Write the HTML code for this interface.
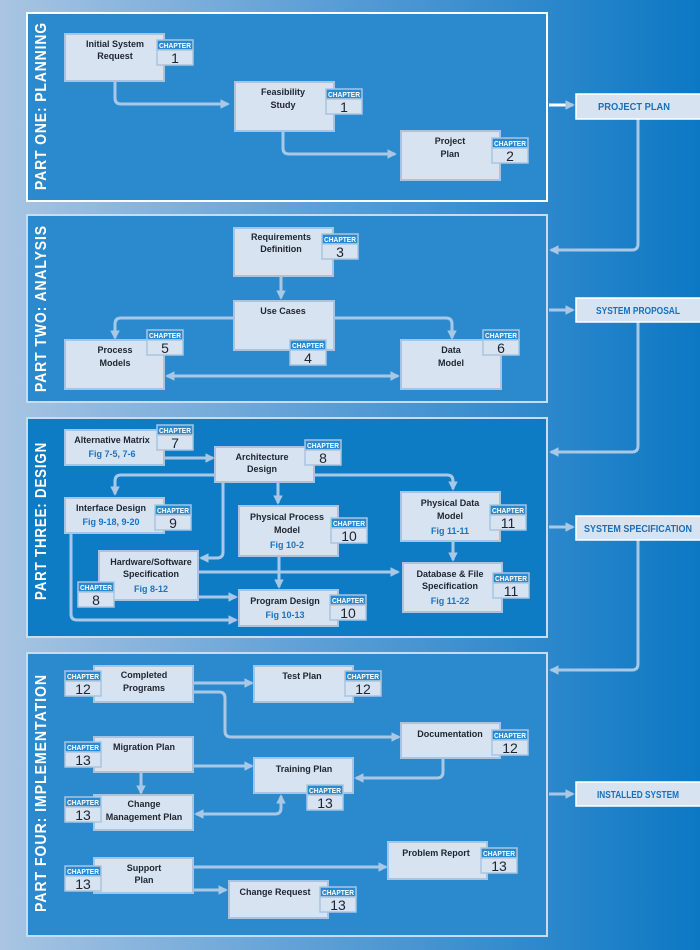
<!DOCTYPE html>
<html><head><meta charset="utf-8"><style>
html,body{margin:0;padding:0;width:700px;height:950px;overflow:hidden}
svg{display:block}
text{font-family:"Liberation Sans",sans-serif;font-weight:bold}
.b{fill:#d7e3f0;stroke:#a9c4e0;stroke-width:2}
.t{font-size:9px;fill:#1e2430;text-anchor:middle}
.f{font-size:9px;fill:#1a73c0;text-anchor:middle}
.ch{font-size:7px;fill:#fff;text-anchor:middle}
.n{font-size:14px;fill:#1e2430;text-anchor:middle;font-weight:normal}
.l{fill:none;stroke:#a9c8e6;stroke-width:3;stroke-linejoin:round}
.pt{font-size:16px;fill:#fff;letter-spacing:1px}
.lab{font-size:10.5px;fill:#1a6fb8;text-anchor:middle}
</style></head><body>
<svg width="700" height="950" viewBox="0 0 700 950" xmlns="http://www.w3.org/2000/svg">
<defs>
<linearGradient id="bg" x1="0" y1="0" x2="1" y2="0">
<stop offset="0" stop-color="#a9c5e2"/><stop offset="0.45" stop-color="#5d9fd6"/><stop offset="1" stop-color="#0c78c4"/>
</linearGradient>
<marker id="a" viewBox="0 0 10 10" refX="8" refY="5" markerWidth="3.2" markerHeight="3.2" orient="auto-start-reverse"><path d="M0,0 L10,5 L0,10 z" fill="#a9c8e6"/></marker>
<g id="bd"><rect x="0" y="0" width="36" height="10" fill="#2a8ad0" stroke="#a9c4e0" stroke-width="1.5"/><text class="ch" x="18" y="8" textLength="32" lengthAdjust="spacingAndGlyphs">CHAPTER</text><rect x="0" y="10" width="36" height="15" fill="#d7e3f0" stroke="#a9c4e0" stroke-width="1.5"/></g>
</defs>
<rect width="700" height="950" fill="url(#bg)"/>

<rect x="27" y="13" width="520" height="188" fill="#2a8acd" stroke="#fff" stroke-width="2"/>
<rect x="27" y="215" width="520" height="187" fill="#2a8acd" stroke="#c9dcef" stroke-width="2"/>
<rect x="27" y="418" width="520" height="219" fill="#0d7cc5" stroke="#c9dcef" stroke-width="2"/>
<rect x="27" y="653" width="520" height="283" fill="#2a8acd" stroke="#c9dcef" stroke-width="2"/>

<text class="pt" transform="translate(46,190) rotate(-90)" textLength="168" lengthAdjust="spacingAndGlyphs">PART ONE: PLANNING</text>
<text class="pt" transform="translate(46,392) rotate(-90)" textLength="167" lengthAdjust="spacingAndGlyphs">PART TWO: ANALYSIS</text>
<text class="pt" transform="translate(46,600) rotate(-90)" textLength="158" lengthAdjust="spacingAndGlyphs">PART THREE: DESIGN</text>
<text class="pt" transform="translate(46,912) rotate(-90)" textLength="238" lengthAdjust="spacingAndGlyphs">PART FOUR: IMPLEMENTATION</text>

<g class="l">
<path d="M549,105 H573" marker-end="url(#a)" stroke="#fff"/>
<path d="M638,119 V244 Q638,250 632,250 H551" marker-end="url(#a)"/>
<path d="M549,310 H573" marker-end="url(#a)"/>
<path d="M638,322 V446 Q638,452 632,452 H551" marker-end="url(#a)"/>
<path d="M549,527 H573" marker-end="url(#a)"/>
<path d="M638,540 V664 Q638,670 632,670 H551" marker-end="url(#a)"/>
<path d="M549,794 H573" marker-end="url(#a)"/>
</g>
<rect x="576" y="94" width="126" height="25" fill="#d7e3f0" stroke="#fff" stroke-width="1.5"/><text class="lab" x="634" y="110" textLength="72" lengthAdjust="spacingAndGlyphs">PROJECT PLAN</text>
<rect x="576" y="298" width="126" height="24" fill="#d7e3f0" stroke="#fff" stroke-width="1.5"/><text class="lab" x="638" y="314" textLength="84" lengthAdjust="spacingAndGlyphs">SYSTEM PROPOSAL</text>
<rect x="576" y="516" width="126" height="24" fill="#d7e3f0" stroke="#fff" stroke-width="1.5"/><text class="lab" x="638" y="532" textLength="108" lengthAdjust="spacingAndGlyphs">SYSTEM  SPECIFICATION</text>
<rect x="576" y="782" width="126" height="24" fill="#d7e3f0" stroke="#fff" stroke-width="1.5"/><text class="lab" x="638" y="798" textLength="82" lengthAdjust="spacingAndGlyphs">INSTALLED SYSTEM</text>

<g class="l">
<path d="M115,81 V98 Q115,104 121,104 H228" marker-end="url(#a)"/>
<path d="M283,131 V148 Q283,154 289,154 H395" marker-end="url(#a)"/>
</g>
<rect class="b" x="65" y="34" width="99" height="47"/><text class="t" x="115" y="47">Initial System</text><text class="t" x="115" y="59">Request</text>
<use href="#bd" x="157" y="40"/><text class="n" x="175" y="63">1</text>
<rect class="b" x="235" y="82" width="99" height="49"/><text class="t" x="283" y="95">Feasibility</text><text class="t" x="283" y="108">Study</text>
<use href="#bd" x="326" y="89"/><text class="n" x="344" y="112">1</text>
<rect class="b" x="401" y="131" width="99" height="49"/><text class="t" x="450" y="144">Project</text><text class="t" x="450" y="157">Plan</text>
<use href="#bd" x="492" y="138"/><text class="n" x="510" y="161">2</text>

<g class="l">
<path d="M281,276 V298" marker-end="url(#a)"/>
<path d="M234,318 H121 Q115,318 115,324 V338" marker-end="url(#a)"/>
<path d="M334,318 H446 Q452,318 452,324 V338" marker-end="url(#a)"/>
<path d="M167,376 H398" marker-end="url(#a)" marker-start="url(#a)"/>
</g>
<rect class="b" x="234" y="228" width="99" height="48"/><text class="t" x="281" y="240">Requirements</text><text class="t" x="281" y="252">Definition</text>
<use href="#bd" x="322" y="234"/><text class="n" x="340" y="257">3</text>
<rect class="b" x="234" y="301" width="100" height="49"/><text class="t" x="283" y="314">Use Cases</text>
<use href="#bd" x="290" y="340"/><text class="n" x="308" y="363">4</text>
<rect class="b" x="65" y="340" width="99" height="49"/><text class="t" x="115" y="353">Process</text><text class="t" x="115" y="366">Models</text>
<use href="#bd" x="147" y="330"/><text class="n" x="165" y="353">5</text>
<rect class="b" x="401" y="340" width="100" height="49"/><text class="t" x="451" y="353">Data</text><text class="t" x="451" y="366">Model</text>
<use href="#bd" x="483" y="330"/><text class="n" x="501" y="353">6</text>

<g class="l">
<path d="M164,458 H213" marker-end="url(#a)"/>
<path d="M215,475 H121 Q115,475 115,481 V494" marker-end="url(#a)"/>
<path d="M223,482 V552 Q223,558 217,558 H201" marker-end="url(#a)"/>
<path d="M278,482 V503" marker-end="url(#a)"/>
<path d="M314,475 H447 Q453,475 453,481 V489" marker-end="url(#a)"/>
<path d="M71,533 V614 Q71,620 77,620 H236" marker-end="url(#a)"/>
<path d="M198,597 H236" marker-end="url(#a)"/>
<path d="M198,572 H398" marker-end="url(#a)"/>
<path d="M279,556 V587" marker-end="url(#a)"/>
<path d="M453,541 V560" marker-end="url(#a)"/>
</g>
<rect class="b" x="65" y="430" width="99" height="35"/><text class="t" x="112" y="443">Alternative Matrix</text><text class="f" x="112" y="457">Fig 7-5, 7-6</text>
<use href="#bd" x="157" y="425"/><text class="n" x="175" y="448">7</text>
<rect class="b" x="215" y="447" width="99" height="35"/><text class="t" x="262" y="460">Architecture</text><text class="t" x="262" y="472">Design</text>
<use href="#bd" x="305" y="440"/><text class="n" x="323" y="463">8</text>
<rect class="b" x="65" y="498" width="99" height="35"/><text class="t" x="111" y="511">Interface Design</text><text class="f" x="111" y="525">Fig 9-18, 9-20</text>
<use href="#bd" x="155" y="505"/><text class="n" x="173" y="528">9</text>
<rect class="b" x="239" y="506" width="99" height="50"/><text class="t" x="287" y="520">Physical Process</text><text class="t" x="287" y="533">Model</text><text class="f" x="287" y="548">Fig 10-2</text>
<use href="#bd" x="331" y="518"/><text class="n" x="349" y="541">10</text>
<rect class="b" x="401" y="492" width="99" height="49"/><text class="t" x="450" y="506">Physical Data</text><text class="t" x="450" y="519">Model</text><text class="f" x="450" y="534">Fig 11-11</text>
<use href="#bd" x="490" y="505"/><text class="n" x="508" y="528">11</text>
<rect class="b" x="99" y="551" width="99" height="49"/><text class="t" x="151" y="565">Hardware/Software</text><text class="t" x="151" y="577">Specification</text><text class="f" x="151" y="592">Fig 8-12</text>
<use href="#bd" x="78" y="582"/><text class="n" x="96" y="605">8</text>
<rect class="b" x="239" y="590" width="99" height="36"/><text class="t" x="285" y="604">Program Design</text><text class="f" x="285" y="618">Fig 10-13</text>
<use href="#bd" x="330" y="595"/><text class="n" x="348" y="618">10</text>
<rect class="b" x="403" y="563" width="99" height="49"/><text class="t" x="450" y="577">Database &amp; File</text><text class="t" x="450" y="589">Specification</text><text class="f" x="450" y="604">Fig 11-22</text>
<use href="#bd" x="493" y="573"/><text class="n" x="511" y="596">11</text>

<g class="l">
<path d="M193,683 H252" marker-end="url(#a)"/>
<path d="M193,692 H219 Q225,692 225,698 V731 Q225,737 231,737 H399" marker-end="url(#a)"/>
<path d="M193,766 H252" marker-end="url(#a)"/>
<path d="M141,772 V793" marker-end="url(#a)"/>
<path d="M443,758 V772 Q443,778 437,778 H356" marker-end="url(#a)"/>
<path d="M196,814 H275 Q281,814 281,808 V796" marker-end="url(#a)" marker-start="url(#a)"/>
<path d="M193,867 H386" marker-end="url(#a)"/>
<path d="M193,890 H226" marker-end="url(#a)"/>
</g>
<rect class="b" x="94" y="666" width="99" height="36"/><text class="t" x="144" y="678">Completed</text><text class="t" x="144" y="691">Programs</text>
<use href="#bd" x="65" y="671"/><text class="n" x="83" y="694">12</text>
<rect class="b" x="254" y="666" width="99" height="36"/><text class="t" x="302" y="679">Test Plan</text>
<use href="#bd" x="345" y="671"/><text class="n" x="363" y="694">12</text>
<rect class="b" x="401" y="723" width="99" height="35"/><text class="t" x="450" y="737">Documentation</text>
<use href="#bd" x="492" y="730"/><text class="n" x="510" y="753">12</text>
<rect class="b" x="94" y="737" width="99" height="35"/><text class="t" x="144" y="750">Migration Plan</text>
<use href="#bd" x="65" y="742"/><text class="n" x="83" y="765">13</text>
<rect class="b" x="254" y="758" width="99" height="35"/><text class="t" x="304" y="772">Training Plan</text>
<use href="#bd" x="307" y="785"/><text class="n" x="325" y="808">13</text>
<rect class="b" x="94" y="795" width="99" height="35"/><text class="t" x="144" y="807">Change</text><text class="t" x="144" y="820">Management Plan</text>
<use href="#bd" x="65" y="797"/><text class="n" x="83" y="820">13</text>
<rect class="b" x="94" y="858" width="99" height="35"/><text class="t" x="144" y="871">Support</text><text class="t" x="144" y="883">Plan</text>
<use href="#bd" x="65" y="866"/><text class="n" x="83" y="889">13</text>
<rect class="b" x="388" y="842" width="99" height="37"/><text class="t" x="436" y="856">Problem Report</text>
<use href="#bd" x="481" y="848"/><text class="n" x="499" y="871">13</text>
<rect class="b" x="229" y="881" width="99" height="37"/><text class="t" x="275" y="895">Change Request</text>
<use href="#bd" x="320" y="887"/><text class="n" x="338" y="910">13</text>
</svg>
</body></html>
